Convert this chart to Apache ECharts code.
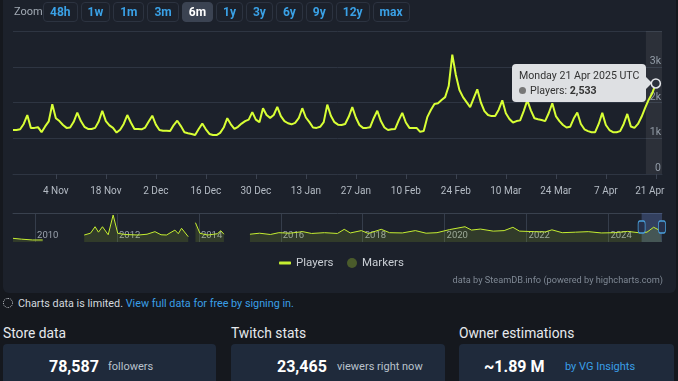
<!DOCTYPE html>
<html><head><meta charset="utf-8">
<script src="https://cdn.jsdelivr.net/npm/echarts@6/dist/echarts.min.js"></script>
<style>
html,body{margin:0;padding:0;}
body{width:678px;height:381px;overflow:hidden;background:#15181e;position:relative;font-family:Roboto,'Liberation Sans',Arial,sans-serif;}
#panel{position:absolute;left:3px;top:-8px;width:673px;height:301px;background:#1c212b;border-radius:6px;}
#chart{position:absolute;left:0;top:0;width:678px;height:295px;}
#zl{position:absolute;left:14px;top:5px;font-size:11px;color:#a3abb5;}
#btns{position:absolute;left:43px;top:2px;display:flex;gap:3px;}
.b{height:18px;line-height:18px;padding:0 6px;border:1px solid #2c3340;border-radius:4px;color:#3aa1e6;font-weight:bold;font-size:12px;text-align:center;}
.b.sel{background:#3b4352;color:#fff;border-color:#3b4352;}
#lim{position:absolute;left:3px;top:297px;font-size:10.8px;color:#d3d8de;white-space:nowrap;}
#lim .ic{display:inline-block;width:8px;height:8px;border:1px dotted #c8ccd2;border-radius:50%;margin-right:5px;vertical-align:-1px;}
#lim a{color:#3a9fe6;text-decoration:none;}
.sec{position:absolute;top:325px;font-size:13.8px;color:#e6e9ed;}
.card{position:absolute;top:344px;height:50px;background:#1f2a3b;border-radius:4px;}
.big{position:absolute;top:357px;font-size:16px;font-weight:bold;color:#ffffff;}
.sm{position:absolute;top:360px;font-size:11px;color:#b9c2cc;}
</style></head>
<body>
<div id="panel"></div>
<div id="chart"></div>
<div id="zl">Zoom</div>
<div id="btns"></div>
<div id="lim"><span class="ic"></span>Charts data is limited. <a>View full data for free by signing in.</a></div>
<div class="sec" style="left:3px">Store data</div>
<div class="sec" style="left:231px">Twitch stats</div>
<div class="sec" style="left:459px">Owner estimations</div>
<div class="card" style="left:3px;width:213px"></div>
<div class="card" style="left:231px;width:214px"></div>
<div class="card" style="left:459px;width:215px"></div>
<span class="big" style="left:49px">78,587</span><span class="sm" style="left:108px">followers</span>
<span class="big" style="left:277px">23,465</span><span class="sm" style="left:337px">viewers right now</span>
<span class="big" style="left:484px">~1.89 M</span><span class="sm" style="left:565px;color:#3a9fe6">by VG Insights</span>
<script>
// ---------- data ----------
const rangeButtons = ['48h','1w','1m','3m','6m','1y','3y','6y','9y','12y','max'];
const selectedButton = '6m';
const startDay = '2024-10-23';
const players = [
1230,1230,1250,1400,1650,1290,1290,1310,1170,1330,
1470,1950,1560,1480,1370,1290,1300,1460,1720,1480,
1320,1260,1260,1290,1470,1770,1480,1360,1290,1160,
1240,1400,1650,1440,1260,1260,1250,1300,1470,1630,
1380,1230,1210,1210,1200,1370,1490,1340,1170,1140,
1120,1090,1260,1410,1250,1120,1090,1090,1150,1300,
1560,1390,1260,1320,1410,1480,1520,1730,1520,1450,
1840,1650,1570,1650,1880,1620,1480,1420,1390,1430,
1560,1840,1580,1450,1300,1290,1320,1450,1940,1630,
1450,1380,1370,1400,1600,1870,1580,1370,1290,1290,
1310,1560,1770,1480,1300,1230,1250,1260,1500,1710,
1440,1290,1290,1290,1180,1200,1590,1790,1960,1980,
2070,2150,2460,3340,2770,2350,2150,2010,1870,2120,
2370,2000,1760,1650,1620,1620,1800,2060,1700,1540,
1440,1480,1500,1760,2060,1780,1560,1530,1510,1480,
1700,1980,1620,1480,1370,1300,1320,1550,1720,1400,
1250,1200,1170,1170,1400,1710,1370,1230,1170,1170,
1200,1400,1680,1330,1290,1400,1600,1850,2080,2260,
2533];
const tickDays = ['2024-11-04','2024-11-18','2024-12-02','2024-12-16','2024-12-30','2025-01-13','2025-01-27','2025-02-10','2025-02-24','2025-03-10','2025-03-24','2025-04-07','2025-04-21'];
const yTicks = [0,1000,2000,3000,4000];
const navDates = ['2009-06-18','2009-09-01','2009-12-10','2010-03-10','2010-09-01','2011-03-15','2011-05-10','2011-06-20','2011-07-20','2011-08-25','2011-10-15','2011-11-28','2012-01-08','2012-03-15','2012-07-10','2012-09-25','2012-12-05','2013-01-28','2013-03-18','2013-06-01','2013-07-01','2013-07-30','2013-09-28','2013-11-01','2013-12-01','2014-01-10','2014-03-20','2014-06-15','2014-07-15','2014-08-12','2014-12-01','2015-04-01','2015-06-25','2015-09-30','2015-12-15','2016-03-20','2016-07-15','2016-10-01','2017-01-25','2017-05-20','2017-07-20','2017-09-12','2017-12-20','2018-02-20','2018-06-15','2018-08-28','2018-12-20','2019-04-15','2019-07-20','2019-10-25','2020-02-15','2020-07-01','2020-08-28','2020-11-15','2021-03-10','2021-06-15','2021-09-01','2021-10-30','2022-03-10','2022-06-18','2022-08-15','2022-11-15','2023-03-15','2023-07-05','2023-10-30','2024-02-25','2024-06-20','2024-09-25','2024-12-10','2025-02-07','2025-04-05','2025-04-21'];
const navValues = [710,550,390,390,null,1350,1700,2950,1900,2950,1400,5210,1680,1450,1350,1500,2000,1400,1350,2300,1600,2650,1020,null,3730,1680,1350,1600,2180,1500,null,1500,1700,1450,1800,1700,2000,1650,1800,1650,2450,1750,2200,1650,2450,1800,1750,2200,1700,1800,2400,2950,2300,2500,2100,2200,2840,2100,2000,1950,2350,1800,1900,2000,1750,1800,2050,1800,1900,2850,2200,2400];
const navYears = [2010,2012,2014,2016,2018,2020,2022,2024];

// ---------- build ----------
const btns = document.getElementById('btns');
rangeButtons.forEach(t => { const d = document.createElement('div'); d.className = 'b' + (t === selectedButton ? ' sel' : ''); d.textContent = t; btns.appendChild(d); });

const DAY = 864e5;
const toMs = s => Date.parse(s + 'T00:00:00Z');
const t0 = toMs(startDay);
const mainData = players.map((v, i) => [t0 + i * DAY, v]);
const lastIdx = players.length - 1;
const hoverT = mainData[lastIdx][0];
const xMin = t0, xMax = hoverT + 1.72 * DAY;
const tickTimes = tickDays.map(toMs);
const navData = navDates.map((d, i) => [toMs(d), navValues[i]]);
const yearTimes = navYears.map(y => Date.UTC(y, 0, 1));
const navMin = navData[0][0];
const MON = ['Jan','Feb','Mar','Apr','May','Jun','Jul','Aug','Sep','Oct','Nov','Dec'];
const WD = ['Sunday','Monday','Tuesday','Wednesday','Thursday','Friday','Saturday'];
const LIME = '#c5ee31';
const FONT = 'Roboto, "Liberation Sans", Arial, sans-serif';

const chart = echarts.init(document.getElementById('chart'), null, {renderer: 'canvas'});
chart.setOption({
  animation: false,
  backgroundColor: 'transparent',
  textStyle: {fontFamily: FONT},
  title: {text: 'data by SteamDB.info (powered by highcharts.com)', right: 10, top: 271,
    textStyle: {fontSize: 9.2, fontWeight: 'normal', color: '#7f8894', fontFamily: FONT}},
  legend: [
    {data: ['Players'], left: 274, top: 252, icon: 'roundRect', itemWidth: 12, itemHeight: 3,
      textStyle: {color: '#c9ced4', fontSize: 11.5}, selectedMode: false},
    {data: ['Markers'], left: 342, top: 252, icon: 'circle', itemWidth: 10, itemHeight: 10,
      textStyle: {color: '#c9ced4', fontSize: 11.5}, selectedMode: false}
  ],
  grid: [
    {left: 13, right: 16, top: 31, height: 143},
    {left: 13, right: 16, top: 213, height: 29}
  ],
  xAxis: [
    {type: 'value', gridIndex: 0, min: xMin, max: xMax,
      axisLine: {show: true, lineStyle: {color: '#2e3542'}},
      axisTick: {show: true, length: 5, customValues: tickTimes, lineStyle: {color: '#3b4250'}},
      axisLabel: {customValues: tickTimes, color: '#b4bbc4', fontSize: 10, margin: 12,
        formatter: v => { const d = new Date(v); const s = d.getUTCDate() + ' ' + MON[d.getUTCMonth()];
          return v === tickTimes[tickTimes.length - 1] ? '{e|' + s + '}' : s; },
        rich: {e: {color: '#b4bbc4', fontSize: 10, padding: [0, 12, 0, 0]}}},
      splitLine: {show: false}},
    {type: 'value', gridIndex: 1, min: navMin, max: xMax,
      axisLine: {show: false},
      axisTick: {show: false, customValues: yearTimes},
      axisLabel: {inside: true, customValues: yearTimes, color: '#9aa2ad', fontSize: 9.5, margin: 1,
        align: 'left', padding: [0, 0, 0, 2], formatter: v => String(new Date(v).getUTCFullYear())},
      splitLine: {show: true, lineStyle: {color: '#353d4b'}}},
    {type: 'value', gridIndex: 1, position: 'top', min: navMin, max: xMax,
      axisLine: {show: true, lineStyle: {color: '#39414e'}},
      axisTick: {show: false}, axisLabel: {show: false}, splitLine: {show: false}}
  ],
  yAxis: [
    {type: 'value', gridIndex: 0, position: 'right', min: yTicks[0], max: yTicks[yTicks.length - 1], interval: 1000,
      axisLine: {show: false}, axisTick: {show: false},
      axisLabel: {inside: true, margin: 1, color: '#8d96a2', fontSize: 10.5, verticalAlign: 'bottom',
        formatter: v => v === yTicks[yTicks.length - 1] ? '' : (v === 0 ? '0' : (v / 1000) + 'k')},
      splitLine: {lineStyle: {color: '#2e3542'}}},
    {type: 'value', gridIndex: 1, min: 0, max: 5600, show: false, splitLine: {show: false}}
  ],
  tooltip: {
    trigger: 'axis', triggerOn: 'none', alwaysShowContent: true, transitionDuration: 0,
    axisPointer: {type: 'none'},
    backgroundColor: 'rgba(230,232,235,0.96)', borderWidth: 0, padding: [4, 7],
    extraCssText: 'box-shadow:none;border-radius:4px;',
    position: () => [512, 64],
    formatter: params => {
      const arr = Array.isArray(params) ? params : [params];
      const p = arr.find(q => q.seriesName === 'Players') || arr[0];
      const d = new Date(p.value[0]);
      const title = WD[d.getUTCDay()] + ' ' + d.getUTCDate() + ' ' + MON[d.getUTCMonth()] + ' ' + d.getUTCFullYear() + ' UTC';
      return '<div style="position:relative;font-family:Roboto,Arial,sans-serif;font-size:10.6px;line-height:15px;color:#333">' +
        '<div>' + title + '</div>' +
        '<div><span style="display:inline-block;width:7px;height:7px;border-radius:50%;background:#777;margin-right:4px"></span>Players: <b>' +
        p.value[1].toLocaleString('en-US') + '</b></div>' +
        '<div style="position:absolute;right:-13px;top:9px;width:0;height:0;border-top:6px solid transparent;border-bottom:6px solid transparent;border-left:6px solid rgba(230,232,235,0.96)"></div></div>';
    }
  },
  series: [
    {name: 'Players', type: 'line', xAxisIndex: 0, yAxisIndex: 0, data: mainData, showSymbol: false,
      lineStyle: {color: LIME, width: 2}, itemStyle: {color: LIME}, z: 3,
      markArea: {silent: true, itemStyle: {color: 'rgba(255,255,255,0.07)'},
        data: [[{xAxis: hoverT - 2.8 * DAY}, {xAxis: xMax}]]},
      markPoint: {silent: true, symbol: 'circle', symbolSize: 9, label: {show: false},
        itemStyle: {color: '#2a303b', borderColor: '#e2e4e8', borderWidth: 1.5},
        data: [{coord: [hoverT, players[lastIdx]]}]}},
    {name: 'Navigator', type: 'line', xAxisIndex: 1, yAxisIndex: 1, data: navData, showSymbol: false,
      connectNulls: false, lineStyle: {color: LIME, width: 1}, itemStyle: {color: LIME},
      areaStyle: {color: 'rgba(170,210,40,0.22)'},
      markArea: {silent: true, itemStyle: {color: 'rgba(100,130,205,0.32)'},
        data: [[{xAxis: xMin}, {xAxis: xMax}]]},
      markPoint: {silent: true, symbol: 'roundRect', symbolSize: [7, 12], label: {show: false},
        itemStyle: {color: '#26304a', borderColor: '#4aa0dc', borderWidth: 1},
        data: [{coord: [xMin, 2900]}, {coord: [xMax, 2900]}]}},
    {name: 'Markers', type: 'scatter', xAxisIndex: 0, yAxisIndex: 0, data: [], itemStyle: {color: '#566a2c'}}
  ]
});
chart.dispatchAction({type: 'showTip', seriesIndex: 0, dataIndex: lastIdx});
</script>
</body></html>
